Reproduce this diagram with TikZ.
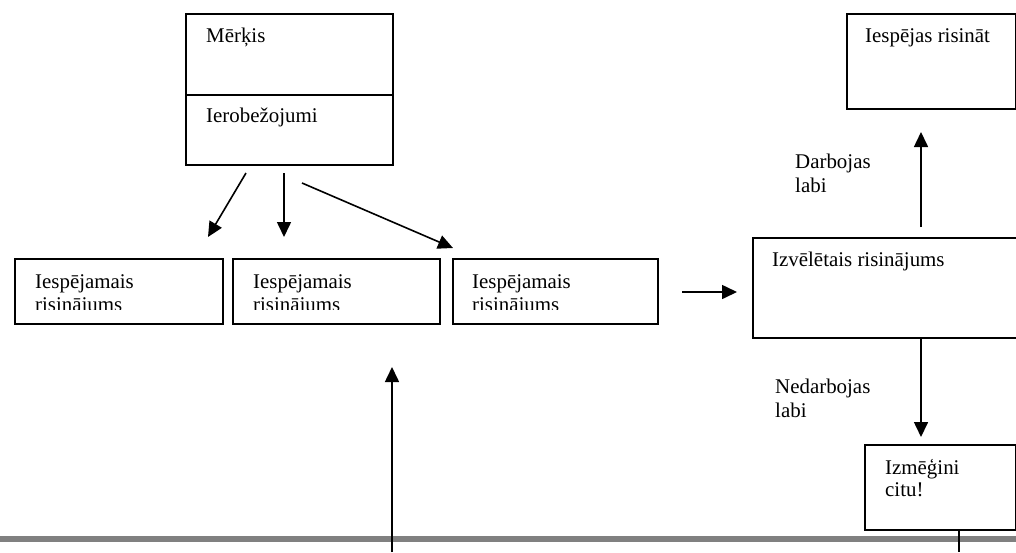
\documentclass[tikz,border=0pt]{standalone}
\usepackage{fontspec}
\setmainfont{Liberation Serif}
\usetikzlibrary{arrows.meta}
\definecolor{bargray}{RGB}{128,128,128}
\begin{document}
\begin{tikzpicture}[x=1pt,y=-1pt,
  box/.style={draw,line width=1.8pt,inner sep=0pt,anchor=north west},
  txt/.style={anchor=base west,inner sep=0pt,font=\fontsize{20.9}{24}\selectfont},
  arr/.style={line width=1.6pt,-{Triangle[length=15pt,width=14pt]}},
  ln/.style={line width=1.6pt}]
\useasboundingbox (0,0) rectangle (1016,552);
\clip (0,0) rectangle (1016,552);
% bottom gray bar
\fill[bargray] (0,536) rectangle (1016,542);
% goal / constraints box
\node[box,minimum width=207pt,minimum height=151pt] (goal) at (185,13) {};
\coordinate (divl) at (185,95);
\coordinate (divr) at (392,95);
\draw[line width=1.8pt] (divl) -- (divr);
\node[txt] (tgoal) at (206,42) {Mērķis};
\node[txt] (tcons) at (206,122) {Ierobežojumi};
% possible solutions
\node[box,minimum width=208pt,minimum height=65pt] (b1) at (14,258) {};
\node[box,minimum width=207pt,minimum height=65pt] (b2) at (232,258) {};
\node[box,minimum width=205pt,minimum height=65pt] (b3) at (452,258) {};
\node[txt] (t1a) at (35,288) {Iespējamais};
\node[txt] (t2a) at (253,288) {Iespējamais};
\node[txt] (t3a) at (472,288) {Iespējamais};
\begin{scope}
\clip (0,250) rectangle (1016,309);
\node[txt] (t1b) at (35,311) {risinājums};
\node[txt] (t2b) at (253,311) {risinājums};
\node[txt] (t3b) at (472,311) {risinājums};
\end{scope}
% arrows from goal box
\coordinate (a1s) at (246,173);
\coordinate (a1e) at (208,237);
\coordinate (a2s) at (284,173);
\coordinate (a2e) at (284,237);
\coordinate (a3s) at (302,183);
\coordinate (a3e) at (453,248);
\draw[arr] (a1s) -- (a1e);
\draw[arr] (a2s) -- (a2e);
\draw[arr] (a3s) -- (a3e);
% chosen solution
\node[box,minimum width=290pt,minimum height=100pt] (chosen) at (752,237) {};
\node[txt] (tchosen) at (772,266) {Izvēlētais risinājums};
\coordinate (a4s) at (682,292);
\coordinate (a4e) at (737,292);
\draw[arr] (a4s) -- (a4e);
% works well
\node[box,minimum width=169pt,minimum height=95pt] (solve) at (846,13) {};
\node[txt] (tsolve) at (865,42) {Iespējas risināt};
\coordinate (a5s) at (921,227);
\coordinate (a5e) at (921,132);
\draw[arr] (a5s) -- (a5e);
\node[txt] (tw1) at (795,168) {Darbojas};
\node[txt] (tw2) at (795,192) {labi};
% does not work
\node[box,minimum width=151pt,minimum height=85pt] (retry) at (864,444) {};
\node[txt] (tr1) at (885,474) {Izmēģini};
\node[txt] (tr2) at (885,496) {citu!};
\coordinate (a6e) at (921,437);
\draw[arr] (chosen.south -| a6e) -- (a6e);
\node[txt] (tn1) at (775,393) {Nedarbojas};
\node[txt] (tn2) at (775,417) {labi};
% lines from the bottom
\coordinate (l1s) at (392,552);
\coordinate (l1e) at (392,367);
\draw[arr] (l1s) -- (l1e);
\coordinate (l2e) at (959,552);
\draw[ln] (retry.south -| l2e) -- (l2e);
\end{tikzpicture}
\end{document}
